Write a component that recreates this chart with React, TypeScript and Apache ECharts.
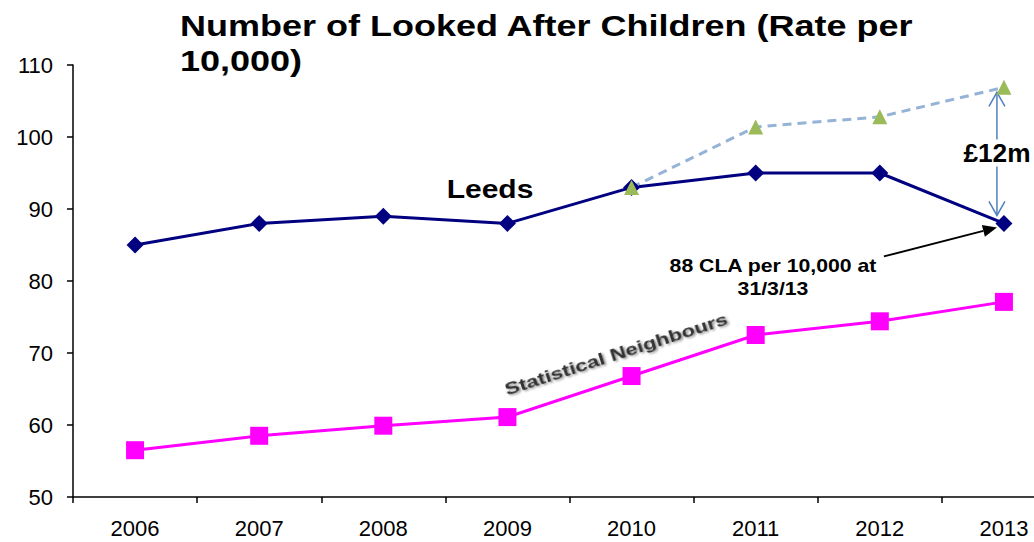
import React, { useEffect, useRef } from "react";
import * as echarts from "echarts";

const years = ["2006", "2007", "2008", "2009", "2010", "2011", "2012", "2013"];
const leeds = [85, 88, 89, 88, 93, 95, 95, 88];
const statNeighbours = [56.5, 58.5, 59.9, 61.1, 66.8, 72.5, 74.4, 77.1];
const projection: (number | null)[] = [null, null, null, null, 93, 101.4, 102.8, 106.9];
const yMin = 50;
const yMax = 110;
const yStep = 10;

const FONT = "'Liberation Sans', Arial, sans-serif";

export default function App() {
  const ref = useRef<HTMLDivElement>(null);
  useEffect(() => {
    if (!ref.current) return;
    const chart = echarts.init(ref.current, null, { renderer: "svg" });
    chart.setOption({
      animation: false,
      backgroundColor: "#ffffff",
      grid: { left: 73, top: 65, bottom: 45, right: 0, containLabel: false },
      xAxis: {
        type: "category",
        data: years,
        boundaryGap: true,
        axisLine: { lineStyle: { color: "#000", width: 1.5 } },
        axisTick: { show: true, length: 6, inside: false, lineStyle: { color: "#000", width: 1.5 } },
        axisLabel: { color: "#000", fontSize: 22, fontFamily: FONT, margin: 20 },
        splitLine: { show: false },
      },
      yAxis: {
        type: "value",
        min: yMin,
        max: yMax,
        interval: yStep,
        axisLine: { show: true, lineStyle: { color: "#000", width: 1.5 } },
        axisTick: { show: true, length: 6, lineStyle: { color: "#000", width: 1.5 } },
        axisLabel: { color: "#000", fontSize: 22, fontFamily: FONT, margin: 20 },
        splitLine: { show: false },
      },
      series: [
        {
          name: "Statistical Neighbours",
          type: "line",
          data: statNeighbours,
          symbol: "rect",
          symbolSize: 18,
          lineStyle: { color: "#ff00ff", width: 3 },
          itemStyle: { color: "#ff00ff" },
        },
        {
          name: "Leeds",
          type: "line",
          data: leeds,
          symbol: "diamond",
          symbolSize: 17,
          lineStyle: { color: "#000080", width: 3 },
          itemStyle: { color: "#000080" },
        },
        {
          name: "Projection",
          type: "line",
          data: projection,
          symbol: "triangle",
          symbolSize: 15,
          lineStyle: { color: "#95b3d7", width: 3, type: [9, 6] },
          itemStyle: { color: "#9bbb59" },
        },
      ],
    });

    const p = (x: string, y: number) => chart.convertToPixel({ gridIndex: 0 }, [x, y]) as number[];
    const top = p("2013", projection[7] as number);
    const bot = p("2013", leeds[7]);
    const ax = top[0] - 7;
    const aTop = top[1] + 5;
    const aBot = bot[1] - 8;
    const blue = "#4f81bd";

    const tip = [bot[0] - 7, bot[1] + 4];
    const start = [tip[0] - 113, tip[1] + 29];
    const dx = tip[0] - start[0];
    const dy = tip[1] - start[1];
    const len = Math.sqrt(dx * dx + dy * dy);
    const ux = dx / len;
    const uy = dy / len;
    const hl = 14;
    const hw = 6;
    const base = [tip[0] - ux * hl, tip[1] - uy * hl];

    chart.setOption({
      graphic: [
        {
          type: "text",
          x: 180,
          y: 8,
          scaleX: 1.2,
          style: {
            text: "Number of Looked After Children (Rate per\n10,000)",
            fontFamily: FONT,
            fontSize: 30,
            fontWeight: "bold",
            fill: "#000",
            align: "left",
            verticalAlign: "top",
            lineHeight: 35,
          },
        },
        {
          type: "line",
          shape: { x1: ax, y1: aTop, x2: ax, y2: aBot },
          style: { stroke: blue, lineWidth: 1.5 },
        },
        {
          type: "polyline",
          shape: { points: [[ax - 8, aTop + 14], [ax, aTop], [ax + 8, aTop + 14]] },
          style: { stroke: blue, lineWidth: 1.5, fill: null },
        },
        {
          type: "polyline",
          shape: { points: [[ax - 8, aBot - 14], [ax, aBot], [ax + 8, aBot - 14]] },
          style: { stroke: blue, lineWidth: 1.5, fill: null },
        },
        {
          type: "text",
          x: ax,
          y: 153,
          scaleX: 1.05,
          style: {
            text: "£12m",
            fontFamily: FONT,
            fontSize: 25,
            fontWeight: "bold",
            fill: "#000",
            align: "center",
            verticalAlign: "middle",
            backgroundColor: "#fff",
            padding: [1, 0],
          },
          z: 10,
        },
        {
          type: "line",
          shape: { x1: start[0], y1: start[1], x2: base[0], y2: base[1] },
          style: { stroke: "#000", lineWidth: 2 },
        },
        {
          type: "polygon",
          shape: {
            points: [
              [tip[0], tip[1]],
              [base[0] - uy * hw, base[1] + ux * hw],
              [base[0] + uy * hw, base[1] - ux * hw],
            ],
          },
          style: { fill: "#000" },
        },
        {
          type: "text",
          x: 773,
          y: 277,
          scaleX: 1.18,
          style: {
            text: "88 CLA per 10,000 at\n31/3/13",
            fontFamily: FONT,
            fontSize: 18,
            fontWeight: "bold",
            fill: "#000",
            align: "center",
            verticalAlign: "middle",
            lineHeight: 23,
          },
        },
        {
          type: "text",
          x: 490,
          y: 189,
          scaleX: 1.2,
          style: {
            text: "Leeds",
            fontFamily: FONT,
            fontSize: 25,
            fontWeight: "bold",
            fill: "#000",
            align: "center",
            verticalAlign: "middle",
          },
        },
        {
          type: "text",
          x: 616,
          y: 354,
          rotation: (17.9 * Math.PI) / 180,
          scaleX: 1.3,
          style: {
            text: "Statistical Neighbours",
            fontFamily: FONT,
            fontSize: 17,
            fontWeight: "bold",
            fill: "#333",
            align: "center",
            verticalAlign: "middle",
            textShadowColor: "rgba(0,0,0,0.45)",
            textShadowBlur: 2,
            textShadowOffsetX: 1.5,
            textShadowOffsetY: 1.5,
          },
        },
      ],
    });

    return () => chart.dispose();
  }, []);
  return (
    <div style={{ position: "fixed", left: 0, top: 0, width: 1034, height: 542, overflow: "hidden" }}>
      <div ref={ref} style={{ width: 1066, height: 542 }} />
    </div>
  );
}
